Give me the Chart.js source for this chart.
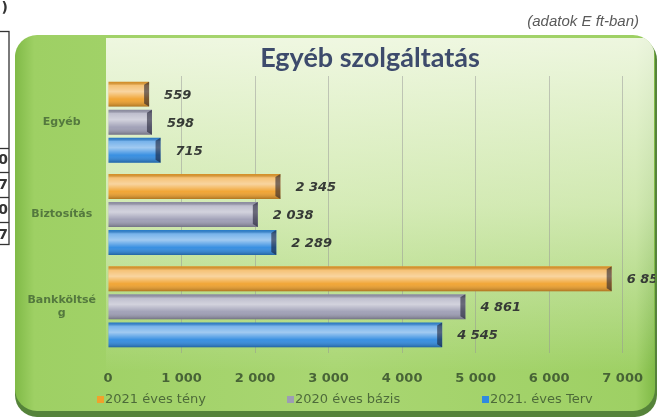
<!DOCTYPE html>
<html>
<head>
<meta charset="utf-8">
<script src="https://cdn.jsdelivr.net/npm/chart.js@4.4.0/dist/chart.umd.min.js"></script>
<style>
  html, body { margin: 0; padding: 0; background: #fff; }
</style>
</head>
<body>
<canvas id="chart" width="661" height="420"></canvas>
<script>
// data (E ft)
const categories = ['Egyéb', 'Biztosítás', ['Bankköltsé', 'g']];
const seriesNames = ['2021 éves tény', '2020 éves bázis', '2021. éves Terv'];
const teny2021 = [559, 2345, 6851];
const bazis2020 = [598, 2038, 4861];
const terv2021 = [715, 2289, 4545];
const xTickValues = [0, 1000, 2000, 3000, 4000, 5000, 6000, 7000];
const barColors = ['#f0a12c', '#9d9db4', '#2f8ae0'];

const fmt = n => String(n).replace(/\B(?=(\d{3})+(?!\d))/g, ' ');

function roundRect(ctx, x, y, w, h, r) {
  ctx.beginPath();
  ctx.moveTo(x + r, y);
  ctx.arcTo(x + w, y, x + w, y + h, r);
  ctx.arcTo(x + w, y + h, x, y + h, r);
  ctx.arcTo(x, y + h, x, y, r);
  ctx.arcTo(x, y, x + w, y, r);
  ctx.closePath();
}

// page, green panel, title
const backdrop = {
  id: 'backdrop',
  beforeDraw(chart) {
    const ctx = chart.ctx;
    ctx.save();
    ctx.fillStyle = '#fff';
    ctx.fillRect(0, 0, chart.width, chart.height);

    // bit of the neighbouring table on the page
    ctx.strokeStyle = '#333';
    ctx.lineWidth = 1.3;
    ctx.strokeRect(-5, 31.5, 14, 213);
    [148, 172, 197, 222].forEach(y => {
      ctx.beginPath(); ctx.moveTo(0, y + 0.5); ctx.lineTo(9, y + 0.5); ctx.stroke();
    });
    ctx.fillStyle = '#333';
    ctx.font = 'bold 14px "DejaVu Sans"';
    ctx.textAlign = 'right';
    ctx.textBaseline = 'middle';
    ['0', '7', '0', '7'].forEach((d, i) => ctx.fillText(d, 8, 160 + i * 25));
    ctx.fillText(')', 8, 8);

    // panel shadow + panel
    ctx.fillStyle = '#55833a';
    roundRect(ctx, 15, 38, 642, 379, 22);
    ctx.fill();
    const g = ctx.createLinearGradient(15, 0, 655, 0);
    g.addColorStop(0, '#80ba47');
    g.addColorStop(0.03, '#9ed064');
    g.addColorStop(0.5, '#a9d672');
    g.addColorStop(0.97, '#9ed064');
    g.addColorStop(1, '#80ba47');
    ctx.fillStyle = g;
    roundRect(ctx, 15, 35, 640, 376, 22);
    ctx.fill();

    // pale plot area
    ctx.save();
    roundRect(ctx, 15, 35, 640, 376, 22);
    ctx.clip();
    const p = ctx.createLinearGradient(0, 38, 0, 372);
    p.addColorStop(0, 'rgba(255,255,250,0.82)');
    p.addColorStop(0.5, 'rgba(250,253,240,0.55)');
    p.addColorStop(1, 'rgba(255,255,255,0)');
    ctx.fillStyle = p;
    ctx.fillRect(106, 38, 548, 334);
    ctx.restore();

    // subtitle and title
    ctx.fillStyle = '#5a5a5a';
    ctx.font = 'italic 15px "Liberation Sans"';
    ctx.textAlign = 'right';
    ctx.textBaseline = 'middle';
    ctx.fillText('(adatok E ft-ban)', 639, 22);
    ctx.fillStyle = '#3d4b6c';
    ctx.font = 'bold 27px Lato';
    ctx.textAlign = 'center';
    ctx.textBaseline = 'alphabetic';
    ctx.fillText('Egyéb szolgáltatás', 370, 67);
    ctx.restore();
  },

  // 3D shading, value labels
  afterDatasetsDraw(chart) {
    const ctx = chart.ctx;
    ctx.save();
    roundRect(ctx, 15, 35, 640, 376, 22);
    ctx.clip();
    chart.data.datasets.forEach((ds, i) => {
      chart.getDatasetMeta(i).data.forEach((bar, j) => {
        const { x, y, base, height } = bar.getProps(['x', 'y', 'base', 'height'], true);
        const top = y - height / 2;
        const sh = ctx.createLinearGradient(0, top, 0, top + height);
        sh.addColorStop(0, 'rgba(0,0,0,0.10)');
        sh.addColorStop(0.15, 'rgba(255,255,255,0.35)');
        sh.addColorStop(0.4, 'rgba(255,255,255,0.55)');
        sh.addColorStop(0.7, 'rgba(255,255,255,0.05)');
        sh.addColorStop(1, 'rgba(0,0,0,0.28)');
        ctx.fillStyle = sh;
        ctx.fillRect(base, top, x - base, height);
        ctx.fillStyle = 'rgba(20,20,40,0.55)';
        ctx.beginPath();
        ctx.moveTo(x - 5, top + 3);
        ctx.lineTo(x, top);
        ctx.lineTo(x, top + height);
        ctx.lineTo(x - 5, top + height - 3);
        ctx.closePath();
        ctx.fill();

        ctx.fillStyle = '#363a36';
        ctx.font = 'italic bold 13px "DejaVu Sans"';
        ctx.textAlign = 'left';
        ctx.textBaseline = 'middle';
        ctx.fillText(fmt(ds.data[j]), Math.min(x + 15, 627), y + 1);
      });
    });
    ctx.restore();
  },

  // legend, spread like the original
  afterDraw(chart) {
    const ctx = chart.ctx;
    const legendX = [100, 290, 485];
    ctx.save();
    ctx.font = '13px "DejaVu Sans"';
    ctx.textAlign = 'left';
    ctx.textBaseline = 'middle';
    chart.data.datasets.forEach((ds, i) => {
      ctx.fillStyle = ds.backgroundColor;
      ctx.fillRect(legendX[i] - 3, 396, 7, 7);
      ctx.fillStyle = 'rgba(55,80,45,0.8)';
      ctx.fillText(ds.label, legendX[i] + 5, 400);
    });
    ctx.restore();
  }
};

new Chart(document.getElementById('chart'), {
  type: 'bar',
  data: {
    labels: categories,
    datasets: [
      { label: seriesNames[0], data: teny2021, backgroundColor: barColors[0] },
      { label: seriesNames[1], data: bazis2020, backgroundColor: barColors[1] },
      { label: seriesNames[2], data: terv2021, backgroundColor: barColors[2] }
    ]
  },
  options: {
    responsive: false,
    animation: false,
    indexAxis: 'y',
    datasets: { bar: { barPercentage: 0.89, categoryPercentage: 0.91, borderWidth: 0 } },
    layout: { padding: { left: 15, right: 24, top: 76, bottom: 33 } },
    plugins: {
      legend: { display: false },
      tooltip: { enabled: false }
    },
    scales: {
      x: {
        min: 0,
        max: 7000,
        afterBuildTicks: s => { s.ticks = xTickValues.map(v => ({ value: v })); },
        afterFit: s => { s.height = 34; },
        ticks: {
          callback: v => fmt(v),
          color: 'rgba(55,80,45,0.85)',
          font: { family: 'DejaVu Sans', size: 13, weight: 'bold' },
          padding: 18,
          maxRotation: 0
        },
        grid: {
          color: c => c.index === 0 ? 'rgba(0,0,0,0)' : 'rgba(150,150,150,0.5)',
          drawTicks: false
        },
        border: { display: false }
      },
      y: {
        afterFit: s => { s.width = 93; },
        ticks: {
          color: 'rgba(70,105,55,0.85)',
          font: { family: 'DejaVu Sans', size: 11, weight: 'bold' },
          crossAlign: 'center',
          padding: 4
        },
        grid: { display: false },
        border: { display: false }
      }
    }
  },
  plugins: [backdrop]
});
</script>
</body>
</html>
